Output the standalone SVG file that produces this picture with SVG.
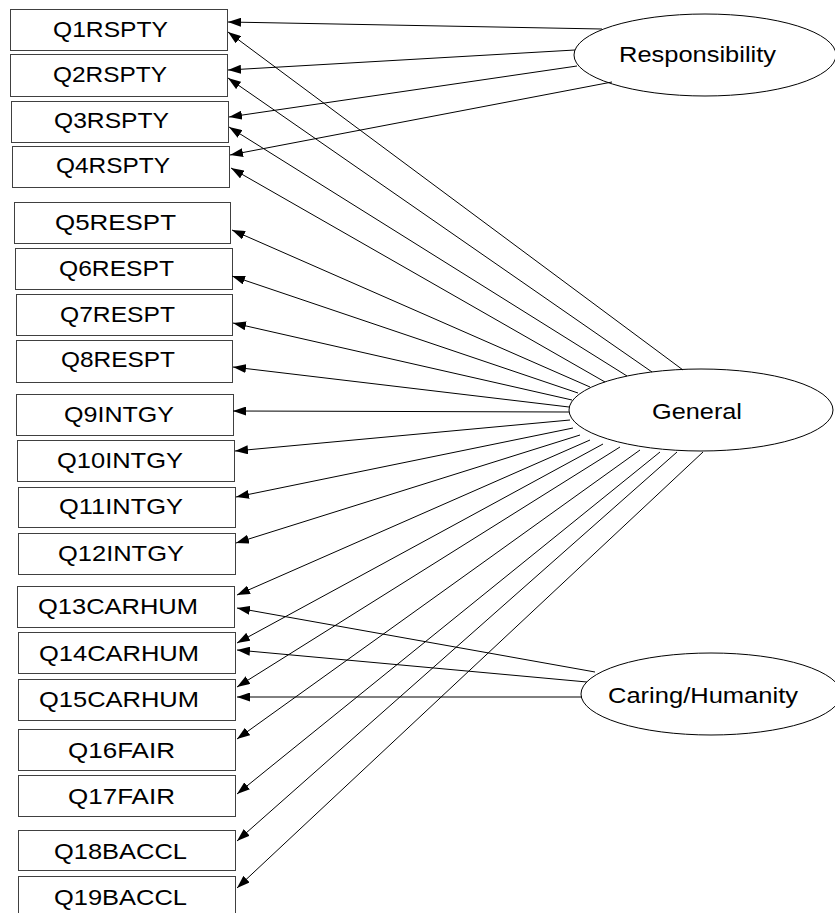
<svg xmlns="http://www.w3.org/2000/svg" width="835" height="913" viewBox="0 0 835 913">
<style>
.box{fill:#fff;stroke:#404040;stroke-width:1}
.lat{fill:#fff;stroke:#000;stroke-width:1}
.t{font-family:"Liberation Sans",Arial,sans-serif;font-size:21.5px;fill:#000}
.c{fill:none;stroke:#000;stroke-width:1;marker-end:url(#ah)}
</style>
<defs>
<marker id="ah" markerUnits="userSpaceOnUse" markerWidth="13" markerHeight="9" refX="13" refY="4.5" orient="auto">
<path d="M0,0 L13,4.5 L0,9 z" fill="#000"/>
</marker>
</defs>
<rect width="835" height="913" fill="#fff"/>
<g id="nodes">
<g id="Q1RSPTY"><rect class="box" x="10.5" y="9.5" width="217" height="41"/><text class="t" x="53" y="36.5" textLength="115" lengthAdjust="spacingAndGlyphs">Q1RSPTY</text></g>
<g id="Q2RSPTY"><rect class="box" x="10.5" y="54.5" width="217" height="42"/><text class="t" x="53" y="82" textLength="114" lengthAdjust="spacingAndGlyphs">Q2RSPTY</text></g>
<g id="Q3RSPTY"><rect class="box" x="11.5" y="101.5" width="217" height="41"/><text class="t" x="54" y="128" textLength="115" lengthAdjust="spacingAndGlyphs">Q3RSPTY</text></g>
<g id="Q4RSPTY"><rect class="box" x="12.5" y="146.5" width="217" height="41"/><text class="t" x="56" y="173" textLength="114" lengthAdjust="spacingAndGlyphs">Q4RSPTY</text></g>
<g id="Q5RESPT"><rect class="box" x="14.5" y="202.5" width="216" height="41"/><text class="t" x="55" y="230" textLength="121" lengthAdjust="spacingAndGlyphs">Q5RESPT</text></g>
<g id="Q6RESPT"><rect class="box" x="15.5" y="248.5" width="217" height="41"/><text class="t" x="59" y="276" textLength="115" lengthAdjust="spacingAndGlyphs">Q6RESPT</text></g>
<g id="Q7RESPT"><rect class="box" x="16.5" y="294.5" width="216" height="41"/><text class="t" x="60" y="322" textLength="115" lengthAdjust="spacingAndGlyphs">Q7RESPT</text></g>
<g id="Q8RESPT"><rect class="box" x="16.5" y="340.5" width="216" height="42"/><text class="t" x="61" y="367" textLength="114" lengthAdjust="spacingAndGlyphs">Q8RESPT</text></g>
<g id="Q9INTGY"><rect class="box" x="16.5" y="394.5" width="217" height="41"/><text class="t" x="64" y="422" textLength="110" lengthAdjust="spacingAndGlyphs">Q9INTGY</text></g>
<g id="Q10INTGY"><rect class="box" x="17.5" y="440.5" width="217" height="41"/><text class="t" x="57" y="468" textLength="126" lengthAdjust="spacingAndGlyphs">Q10INTGY</text></g>
<g id="Q11INTGY"><rect class="box" x="18.5" y="487.5" width="217" height="40"/><text class="t" x="59" y="513.5" textLength="124" lengthAdjust="spacingAndGlyphs">Q11INTGY</text></g>
<g id="Q12INTGY"><rect class="box" x="18.5" y="533.5" width="217" height="41"/><text class="t" x="58" y="560.5" textLength="126" lengthAdjust="spacingAndGlyphs">Q12INTGY</text></g>
<g id="Q13CARHUM"><rect class="box" x="17.5" y="586.5" width="217" height="41"/><text class="t" x="38" y="614" textLength="160" lengthAdjust="spacingAndGlyphs">Q13CARHUM</text></g>
<g id="Q14CARHUM"><rect class="box" x="18.5" y="632.5" width="217" height="41"/><text class="t" x="39" y="660.5" textLength="160" lengthAdjust="spacingAndGlyphs">Q14CARHUM</text></g>
<g id="Q15CARHUM"><rect class="box" x="18.5" y="679.5" width="217" height="41"/><text class="t" x="39" y="706.5" textLength="160" lengthAdjust="spacingAndGlyphs">Q15CARHUM</text></g>
<g id="Q16FAIR"><rect class="box" x="18.5" y="729.5" width="217" height="41"/><text class="t" x="68" y="758" textLength="107" lengthAdjust="spacingAndGlyphs">Q16FAIR</text></g>
<g id="Q17FAIR"><rect class="box" x="18.5" y="775.5" width="217" height="41"/><text class="t" x="68" y="804" textLength="107" lengthAdjust="spacingAndGlyphs">Q17FAIR</text></g>
<g id="Q18BACCL"><rect class="box" x="18.5" y="830.5" width="217" height="40"/><text class="t" x="54" y="859" textLength="133" lengthAdjust="spacingAndGlyphs">Q18BACCL</text></g>
<g id="Q19BACCL"><rect class="box" x="18.5" y="876.5" width="217" height="42"/><text class="t" x="54" y="905" textLength="133" lengthAdjust="spacingAndGlyphs">Q19BACCL</text></g>
<g id="Responsibility"><ellipse class="lat" cx="705" cy="55" rx="131" ry="41"/><text class="t" x="619" y="61.5" textLength="157" lengthAdjust="spacingAndGlyphs">Responsibility</text></g>
<g id="General"><ellipse class="lat" cx="701" cy="410" rx="132" ry="41"/><text class="t" x="652" y="418.5" textLength="90" lengthAdjust="spacingAndGlyphs">General</text></g>
<g id="CaringHumanity"><ellipse class="lat" cx="711" cy="694" rx="130" ry="41"/><text class="t" x="608" y="703" textLength="190" lengthAdjust="spacingAndGlyphs">Caring/Humanity</text></g>
</g>
<g id="connectors">
<path class="c" d="M602,29 L228,22"/>
<path class="c" d="M575,50 L228,70"/>
<path class="c" d="M577,66 L229,117"/>
<path class="c" d="M612,82 L230,155"/>
<path class="c" d="M683,370 L228,32"/>
<path class="c" d="M652,372 L228,78"/>
<path class="c" d="M627,376 L229,127"/>
<path class="c" d="M605,382 L231,168"/>
<path class="c" d="M590,387 L232,230"/>
<path class="c" d="M578,393 L232,276"/>
<path class="c" d="M572,400 L233,323"/>
<path class="c" d="M569,407 L233,367"/>
<path class="c" d="M569,412 L233,411"/>
<path class="c" d="M570,420 L235,451"/>
<path class="c" d="M573,428 L236,497"/>
<path class="c" d="M580,435 L236,543"/>
<path class="c" d="M590,440 L237,595"/>
<path class="c" d="M603,444 L237,643"/>
<path class="c" d="M620,447 L237,687"/>
<path class="c" d="M640,450 L237,739"/>
<path class="c" d="M660,452 L237,794"/>
<path class="c" d="M677,452 L237,841"/>
<path class="c" d="M703,452 L237,888"/>
<path class="c" d="M595,672 L237,608"/>
<path class="c" d="M587,682 L237,650"/>
<path class="c" d="M582,697 L237,697"/>
</g>
</svg>
